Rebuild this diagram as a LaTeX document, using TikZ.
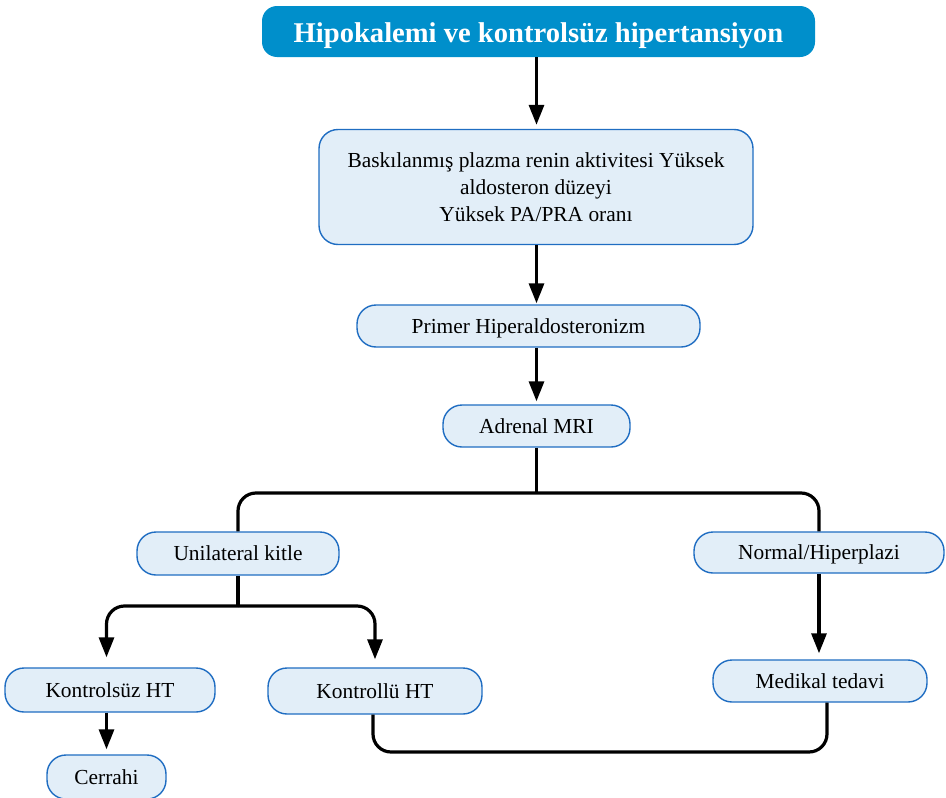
\documentclass[tikz,border=0pt]{standalone}
\usepackage{fontspec}
\setmainfont{Liberation Serif}
\usetikzlibrary{arrows.meta}
\definecolor{titleblue}{HTML}{008FCB}
\definecolor{boxfill}{HTML}{E2EEF8}
\definecolor{boxline}{HTML}{1F6DC2}
\tikzset{
  titlebox/.style={draw=none, fill=titleblue, rounded corners=15pt, text=white,
    font=\fontsize{28.6}{31}\selectfont\bfseries, inner sep=0pt,
    text height=23pt, text depth=2pt},
  flowbox/.style={draw=boxline, line width=1.4pt, fill=boxfill, rounded corners=19pt,
    font=\fontsize{21.4}{27}\selectfont, inner sep=0pt, align=center},
  linebox/.style={flowbox, text height=16pt, text depth=2pt},
  conn/.style={line width=3.2pt, black, rounded corners=18pt},
  arr/.style={conn, -{Triangle[length=20pt,width=15pt]}}
}
\begin{document}
\begin{tikzpicture}[x=1pt,y=-1pt]
\useasboundingbox (0,0) rectangle (946,798);

% nodes
\node[titlebox, minimum width=553pt, minimum height=51pt] (top) at (538.5,31.5)
  {Hipokalemi ve kontrolsüz hipertansiyon};
\node[flowbox, minimum width=434pt, minimum height=115pt] (lab) at (536,187)
  {Baskılanmış plazma renin aktivitesi Yüksek\\aldosteron düzeyi\\Yüksek PA/PRA oranı};
\node[linebox, minimum width=343pt, minimum height=42pt] (pha) at (528.5,326)
  {Primer Hiperaldosteronizm};
\node[linebox, minimum width=187pt, minimum height=42pt] (mri) at (536.5,426)
  {Adrenal MRI};
\node[linebox, minimum width=202pt, minimum height=43pt] (uni) at (238,553.5)
  {Unilateral kitle};
\node[linebox, minimum width=250pt, minimum height=41pt] (norm) at (819,552.5)
  {Normal/Hiperplazi};
\node[linebox, minimum width=210pt, minimum height=44pt] (unc) at (110,690)
  {Kontrolsüz HT};
\node[linebox, minimum width=214pt, minimum height=46pt] (ctl) at (375,691)
  {Kontrollü HT};
\node[linebox, minimum width=214pt, minimum height=42pt] (med) at (820,681)
  {Medikal tedavi};
\node[linebox, minimum width=119pt, minimum height=44pt] (cer) at (106.5,777)
  {Cerrahi};

% branch levels
\coordinate (b1) at (536.5,493);
\coordinate (b2) at (238,606);
\coordinate (b3) at (600,752);

% connectors
\draw[arr, shorten >=4pt] (top.south -| mri.south) -- (lab.north -| mri.south);
\draw[arr, shorten >=1pt] (lab.south -| mri.south) -- (pha.north -| mri.south);
\draw[arr, shorten >=3pt] (pha.south -| mri.south) -- (mri.north);
\draw[conn] (mri.south) -- (b1);
\draw[conn] (uni.north) |- (b1) -| (norm.north);
\draw[conn] (uni.south) -- (b2);
\draw[arr, shorten >=10pt] (b2) -| (unc.north -| cer.north);
\draw[arr, shorten >=8pt] (b2) -| (ctl.north);
\draw[arr, shorten >=6pt] (norm.south) -- (norm.south |- med.north);
\draw[arr, shorten >=5pt] (unc.south -| cer.north) -- (cer.north);
\draw[conn] ([xshift=-2pt]ctl.south) |- (b3) -| ([xshift=7pt]med.south);
\end{tikzpicture}
\end{document}
